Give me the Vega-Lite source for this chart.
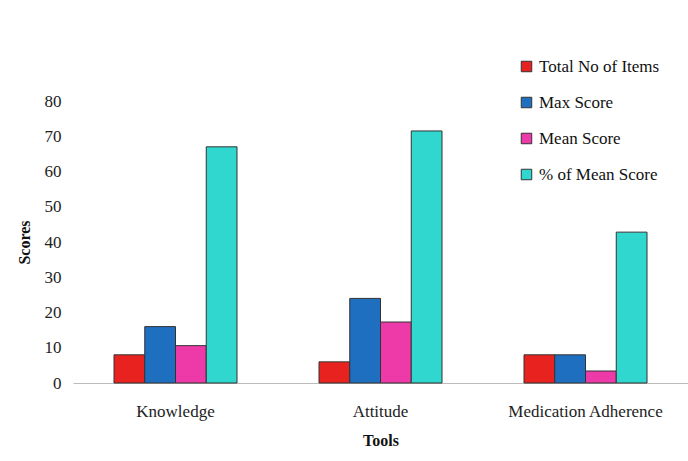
{
  "$schema": "https://vega.github.io/schema/vega-lite/v6.json",
  "autosize": "none",
  "width": 615,
  "height": 282,
  "padding": {"left": 73, "top": 101, "right": 0, "bottom": 78},
  "background": "white",
  "config": {
    "view": {"stroke": null},
    "font": "Liberation Serif"
  },
  "data": {
    "values": [
      {"tool": "Knowledge", "measure": "Total No of Items", "value": 8},
      {"tool": "Knowledge", "measure": "Max Score", "value": 16},
      {"tool": "Knowledge", "measure": "Mean Score", "value": 10.6},
      {"tool": "Knowledge", "measure": "% of Mean Score", "value": 67},
      {"tool": "Attitude", "measure": "Total No of Items", "value": 6},
      {"tool": "Attitude", "measure": "Max Score", "value": 24},
      {"tool": "Attitude", "measure": "Mean Score", "value": 17.3},
      {"tool": "Attitude", "measure": "% of Mean Score", "value": 71.5},
      {"tool": "Medication Adherence", "measure": "Total No of Items", "value": 8},
      {"tool": "Medication Adherence", "measure": "Max Score", "value": 8},
      {"tool": "Medication Adherence", "measure": "Mean Score", "value": 3.4},
      {"tool": "Medication Adherence", "measure": "% of Mean Score", "value": 42.8}
    ]
  },
  "mark": {"type": "bar", "stroke": "#333333", "strokeWidth": 1},
  "encoding": {
    "x": {
      "field": "tool",
      "type": "nominal",
      "sort": ["Knowledge", "Attitude", "Medication Adherence"],
      "scale": {"paddingInner": 0.4, "paddingOuter": 0.2},
      "axis": {
        "title": "Tools",
        "titleFont": "Liberation Serif",
        "titleFontSize": 16,
        "titleFontWeight": "bold",
        "titleColor": "#111",
        "titlePadding": 13,
        "labelAngle": 0,
        "labelFont": "Liberation Serif",
        "labelFontSize": 17,
        "labelColor": "#222",
        "labelPadding": 20,
        "ticks": false,
        "domainColor": "#bbbbbb",
        "domainWidth": 1
      }
    },
    "xOffset": {
      "field": "measure",
      "type": "nominal",
      "sort": ["Total No of Items", "Max Score", "Mean Score", "% of Mean Score"],
      "scale": {"paddingInner": 0, "paddingOuter": 0}
    },
    "y": {
      "field": "value",
      "type": "quantitative",
      "scale": {"domain": [0, 80], "nice": false},
      "axis": {
        "title": "Scores",
        "titleFont": "Liberation Serif",
        "titleFontSize": 16,
        "titleFontWeight": "bold",
        "titleColor": "#111",
        "titlePadding": 12,
        "values": [0, 10, 20, 30, 40, 50, 60, 70, 80],
        "labelFont": "Liberation Serif",
        "labelFontSize": 17,
        "labelColor": "#222",
        "labelPadding": 12,
        "ticks": false,
        "domain": false,
        "grid": false
      }
    },
    "color": {
      "field": "measure",
      "type": "nominal",
      "sort": ["Total No of Items", "Max Score", "Mean Score", "% of Mean Score"],
      "scale": {
        "domain": ["Total No of Items", "Max Score", "Mean Score", "% of Mean Score"],
        "range": ["#e8221e", "#1f6fc0", "#ee3aa8", "#2fd7cf"]
      },
      "legend": {
        "title": null,
        "orient": "none",
        "legendX": 445,
        "legendY": -43,
        "symbolType": "square",
        "symbolSize": 110,
        "symbolStrokeColor": "#333",
        "symbolStrokeWidth": 1,
        "labelFont": "Liberation Serif",
        "labelFontSize": 17,
        "labelColor": "#111",
        "labelOffset": 4,
        "rowPadding": 18
      }
    }
  }
}
